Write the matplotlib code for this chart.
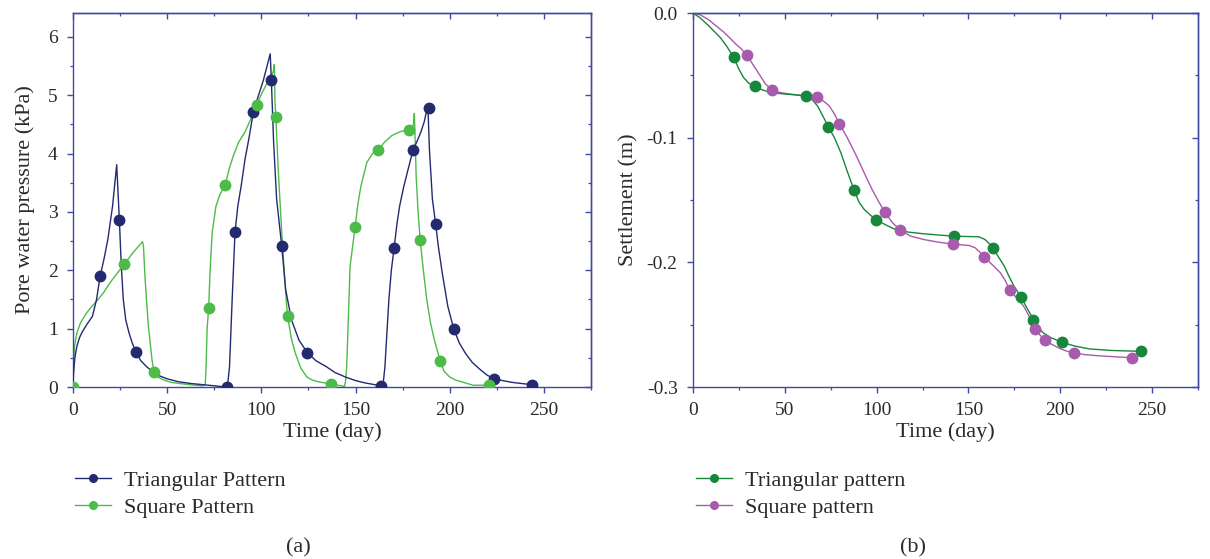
import matplotlib
matplotlib.use("Agg")
import matplotlib.pyplot as plt
from matplotlib.ticker import MultipleLocator, FuncFormatter
from matplotlib.lines import Line2D

plt.rcParams['font.family'] = ['Liberation Serif', 'DejaVu Serif']
plt.rcParams['axes.unicode_minus'] = False

# ---------------- Panel (a): pore water pressure (kPa) vs time (day) ----------------
tri_line_x = [0, 0.3, 1, 2, 3.5, 5, 7.5, 10.3, 12.5, 14.4, 16.5, 18.5, 21, 23.2,
              24.6, 25.6, 26.7, 28, 29.8, 31.5, 33.4, 36, 39, 42, 46, 50, 56, 62.6, 72, 81.5,
              82.3, 83.1, 84.5, 86, 87.5, 89.3, 91.3, 93.4, 95.8, 98, 101, 104.7,
              105.3, 106.5, 108.1, 110.8, 112.9, 116, 120, 124.4, 129, 134.4, 139, 144.7, 150, 155, 163.6,
              164.8, 165.6, 167.7, 169, 170.5, 172, 173.4, 175.5, 177.5, 180.6, 182.5, 184.7, 186.5, 188.4,
              189.2, 190.8, 192.5, 194, 196, 199, 202.1, 205, 208.3, 212, 216.5, 220, 223.7, 228, 233, 238, 243.8]
tri_line_y = [0, 0.25, 0.5, 0.69, 0.85, 0.95, 1.08, 1.21, 1.5, 1.9, 2.2, 2.53, 3.1, 3.81,
              2.87, 2.1, 1.5, 1.15, 0.92, 0.75, 0.6, 0.45, 0.35, 0.27, 0.19, 0.14, 0.09, 0.06, 0.03, 0.0,
              0.1, 0.35, 1.5, 2.65, 3.1, 3.45, 3.9, 4.26, 4.72, 4.95, 5.25, 5.71,
              5.26, 4.2, 3.22, 2.42, 1.67, 1.15, 0.8, 0.59, 0.45, 0.35, 0.25, 0.17, 0.11, 0.07, 0.02,
              0.1, 0.35, 1.5, 2.0, 2.39, 2.8, 3.1, 3.42, 3.68, 4.07, 4.2, 4.37, 4.55, 4.83,
              4.08, 3.22, 2.8, 2.4, 1.96, 1.38, 1.0, 0.76, 0.58, 0.42, 0.29, 0.2, 0.14, 0.11, 0.08, 0.06, 0.04]
tri_mark_x = [14.4, 24.6, 33.4, 81.5, 86, 95.8, 105.3, 110.8, 124.4, 163.6, 170.5, 180.6, 188.8, 192.5, 202.1, 223.7, 243.8]
tri_mark_y = [1.9, 2.87, 0.6, 0.0, 2.65, 4.72, 5.26, 2.42, 0.59, 0.02, 2.39, 4.07, 4.79, 2.8, 1.0, 0.14, 0.04]

sq_line_x = [0, 0.3, 0.8, 2, 4, 7.2, 10, 13.3, 16.5, 19.5, 23, 27.1, 31.8, 36.3, 36.9,
             37.4, 38.2, 39, 40, 41, 42, 43.1, 45, 48.2, 52, 56.4, 62, 68.7,
             70.2, 70.7, 71.2, 72, 72.8, 73.9, 75.9, 78, 80.9, 83, 85.2, 88, 91.3, 94.5, 97.5, 100.5, 103.6, 106.3, 106.9,
             107.2, 107.7, 109, 110.8, 112.9, 113.9, 115.8, 118, 121, 124.2, 127, 130.3, 136.9, 144.1,
             144.7, 145.3, 146, 147.1, 149.8, 151.3, 152.9, 156, 159, 162.1, 165.5, 169.3, 174, 178.5, 180.8, 181.2,
             181.6, 182.2, 183.2, 184.3, 186, 187.8, 189.8, 191.9, 194.9, 197, 200, 203, 206.2, 212.4, 220.6]
sq_line_y = [0, 0.4, 0.7, 0.92, 1.1, 1.27, 1.38, 1.5, 1.63, 1.78, 1.93, 2.1, 2.3, 2.47, 2.49,
             2.42, 1.9, 1.5, 1.05, 0.75, 0.45, 0.25, 0.17, 0.12, 0.08, 0.06, 0.04, 0.02,
             0.04, 0.4, 1.0, 1.35, 2.0, 2.65, 3.1, 3.3, 3.47, 3.75, 3.97, 4.2, 4.37, 4.6, 4.84, 5.05, 5.24, 5.4, 5.53,
             4.9, 4.62, 3.7, 2.65, 1.61, 1.22, 0.85, 0.58, 0.32, 0.17, 0.12, 0.09, 0.05, 0.01,
             0.1, 0.35, 1.0, 2.07, 2.75, 3.15, 3.45, 3.85, 4.0, 4.07, 4.2, 4.31, 4.38, 4.41, 4.5, 4.69,
             4.3, 3.6, 3.0, 2.52, 2.0, 1.5, 1.1, 0.8, 0.45, 0.27, 0.17, 0.12, 0.09, 0.03, 0.03]
sq_mark_x = [0, 27.1, 43.1, 72, 80.9, 97.5, 107.7, 113.9, 136.9, 149.8, 162.1, 178.5, 184.3, 194.9, 220.6]
sq_mark_y = [0, 2.1, 0.25, 1.35, 3.47, 4.84, 4.62, 1.22, 0.05, 2.75, 4.07, 4.41, 2.52, 0.45, 0.03]

# ---------------- Panel (b): settlement (m) vs time (day) ----------------
tri_s_line_x = [0, 4, 8.5, 14.8, 18.5, 22.2, 25, 27.5, 30.5, 33.9, 38, 42.4, 50, 55.1, 61.4, 64.5, 67.8,
                70.5, 73.7, 77, 80.5, 84, 87.7, 90.5, 93.2, 96.5, 99.8, 105, 110.2, 117, 125, 133, 142.2,
                150, 155.7, 158.9, 161, 163.3, 166.5, 169.5, 172, 174.8, 178.6, 182, 185.4, 188, 190.7,
                195, 200.8, 208, 216.1, 228, 244]
tri_s_line_y = [0, -0.004, -0.0102, -0.0196, -0.027, -0.0356, -0.045, -0.0517, -0.0565, -0.0589, -0.0618,
                -0.0638, -0.065, -0.0656, -0.0664, -0.069, -0.0745, -0.082, -0.0913, -0.1, -0.112, -0.127,
                -0.142, -0.152, -0.1575, -0.162, -0.166, -0.170, -0.1736, -0.1757, -0.177, -0.178, -0.179,
                -0.1793, -0.1795, -0.1816, -0.1845, -0.1886, -0.196, -0.203, -0.211, -0.2191, -0.2277,
                -0.237, -0.2459, -0.252, -0.2566, -0.2605, -0.2641, -0.2672, -0.2695, -0.2707, -0.2714]
tri_s_mark_x = [22.2, 33.9, 61.4, 73.7, 87.7, 99.8, 142.2, 163.3, 178.6, 185.4, 200.8, 244]
tri_s_mark_y = [-0.0356, -0.0589, -0.0664, -0.0913, -0.142, -0.166, -0.179, -0.1886, -0.2277, -0.2459, -0.2641, -0.2714]

sq_s_line_x = [0, 4, 8.5, 12.5, 16.9, 20, 23.3, 26.5, 29.2, 32.5, 36, 39.5, 43, 46.5, 50.8, 58, 67.4,
               70.5, 74.2, 77, 79.7, 84, 89, 93, 97.5, 101, 104.4, 108.5, 112.9, 118.6, 126, 133.5, 141.7,
               150.4, 153.6, 156, 158.7, 163, 167.4, 170, 172.5, 176.5, 180.1, 183.5, 186.4, 189, 191.9,
               195, 199.2, 203, 207.6, 213, 220.3, 230, 239]
sq_s_line_y = [0, -0.0015, -0.0054, -0.0102, -0.0155, -0.02, -0.0249, -0.029, -0.0338, -0.041, -0.049,
               -0.057, -0.0616, -0.0635, -0.0646, -0.066, -0.0672, -0.07, -0.0745, -0.081, -0.0889, -0.1,
               -0.1147, -0.1275, -0.1415, -0.151, -0.1597, -0.168, -0.1744, -0.179, -0.1818, -0.1838,
               -0.1854, -0.1865, -0.1883, -0.1915, -0.1958, -0.202, -0.2084, -0.2145, -0.2221, -0.229,
               -0.2352, -0.2445, -0.2534, -0.2585, -0.2625, -0.2655, -0.2687, -0.271, -0.2727, -0.274,
               -0.2749, -0.2758, -0.2765]
sq_s_mark_x = [29.2, 43, 67.4, 79.7, 104.4, 112.9, 141.7, 158.7, 172.5, 186.4, 191.9, 207.6, 239]
sq_s_mark_y = [-0.0338, -0.0616, -0.0672, -0.0889, -0.1597, -0.1744, -0.1854, -0.1958, -0.2221, -0.2534,
               -0.2625, -0.2727, -0.2765]

NAVY = '#232a6f'
LGREEN = '#4dbb48'
DGREEN = '#17873c'
PURPLE = '#a85aac'
SPINE = '#4248a3'
TXT = '#2a2a2a'

LABEL_FS = 16
TICK_FS = 14

fig = plt.figure(figsize=(12.1, 5.59), dpi=100)
axa = fig.add_axes([73/1210, 1-387/559, (591-73)/1210, (387-13)/559])
axb = fig.add_axes([693/1210, 1-387/559, (1198-693)/1210, (387-13)/559])

lw = 1.0
ms = 7.5

# panel a
axa.plot(tri_line_x, tri_line_y, color=NAVY, lw=lw, zorder=3)
axa.plot(tri_mark_x, tri_mark_y, 'o', color=NAVY, ms=ms, zorder=4)
axa.plot(sq_line_x, sq_line_y, color=LGREEN, lw=lw, zorder=2)
axa.plot(sq_mark_x, sq_mark_y, 'o', color=LGREEN, ms=ms, zorder=4)
axa.set_xlim(0, 275)
axa.set_ylim(0, 6.41)
axa.set_xlabel('Time (day)', fontsize=LABEL_FS, color=TXT, labelpad=2)
axa.set_ylabel('Pore water pressure (kPa)', fontsize=LABEL_FS, color=TXT, labelpad=9)

# panel b
axb.plot(tri_s_line_x, tri_s_line_y, color=DGREEN, lw=lw, zorder=3)
axb.plot(tri_s_mark_x, tri_s_mark_y, 'o', color=DGREEN, ms=ms, zorder=4)
axb.plot(sq_s_line_x, sq_s_line_y, color=PURPLE, lw=lw, zorder=2)
axb.plot(sq_s_mark_x, sq_s_mark_y, 'o', color=PURPLE, ms=ms, zorder=4)
axb.set_xlim(0, 275)
axb.set_ylim(-0.3, 0.0)
axb.yaxis.set_major_formatter(FuncFormatter(lambda v, p: f'{v:.1f}'.replace('-0.0', '0.0')))
axb.set_xlabel('Time (day)', fontsize=LABEL_FS, color=TXT, labelpad=2)
axb.set_ylabel('Settlement (m)', fontsize=LABEL_FS, color=TXT, labelpad=6)

steps = {axa: (50, 25, 1, 0.5), axb: (50, 25, 0.1, 0.05)}
for ax, (xmaj, xmin, ymaj, ymin) in steps.items():
    ax.xaxis.set_major_locator(MultipleLocator(xmaj))
    ax.xaxis.set_minor_locator(MultipleLocator(xmin))
    ax.yaxis.set_major_locator(MultipleLocator(ymaj))
    ax.yaxis.set_minor_locator(MultipleLocator(ymin))
    for s in ax.spines.values():
        s.set_color(SPINE)
        s.set_linewidth(1.0)
    ax.tick_params(which='both', direction='out', color=SPINE, labelcolor=TXT, labelsize=TICK_FS)
    ax.tick_params(which='major', length=4, width=1.0, pad=7)
    ax.tick_params(which='minor', length=2.5, width=0.9)
    # inward ticks on the top and right spines
    sec_x = ax.secondary_xaxis('top')
    sec_x.xaxis.set_major_locator(MultipleLocator(xmaj))
    sec_x.xaxis.set_minor_locator(MultipleLocator(xmin))
    sec_x.tick_params(which='both', direction='in', color=SPINE, labeltop=False)
    sec_y = ax.secondary_yaxis('right')
    sec_y.yaxis.set_major_locator(MultipleLocator(ymaj))
    sec_y.yaxis.set_minor_locator(MultipleLocator(ymin))
    sec_y.tick_params(which='both', direction='in', color=SPINE, labelright=False)
    for sec in (sec_x, sec_y):
        sec.tick_params(which='major', length=4, width=1.0)
        sec.tick_params(which='minor', length=2.5, width=0.9)
        for s in sec.spines.values():
            s.set_color(SPINE)
            s.set_linewidth(1.0)

# legends
leg_kw = dict(loc='upper left', frameon=False, fontsize=LABEL_FS, handlelength=1.6, handletextpad=0.6,
              labelspacing=0.3, labelcolor=TXT, borderpad=0, borderaxespad=0)
h_tri = Line2D([], [], color=NAVY, lw=lw, marker='o', ms=5.5)
h_sq = Line2D([], [], color=LGREEN, lw=lw, marker='o', ms=5.5)
fig.legend([h_tri, h_sq], ['Triangular Pattern', 'Square Pattern'],
           bbox_to_anchor=(75/1210, 1-470/559), **leg_kw)
h_tri2 = Line2D([], [], color=DGREEN, lw=lw, marker='o', ms=5.5)
h_sq2 = Line2D([], [], color=PURPLE, lw=lw, marker='o', ms=5.5)
fig.legend([h_tri2, h_sq2], ['Triangular pattern', 'Square pattern'],
           bbox_to_anchor=(696/1210, 1-470/559), **leg_kw)

fig.text(298/1210, 1-548/559, '(a)', ha='center', va='center', fontsize=LABEL_FS, color=TXT)
fig.text(913/1210, 1-548/559, '(b)', ha='center', va='center', fontsize=LABEL_FS, color=TXT)

fig.savefig('out.png', dpi=100)
